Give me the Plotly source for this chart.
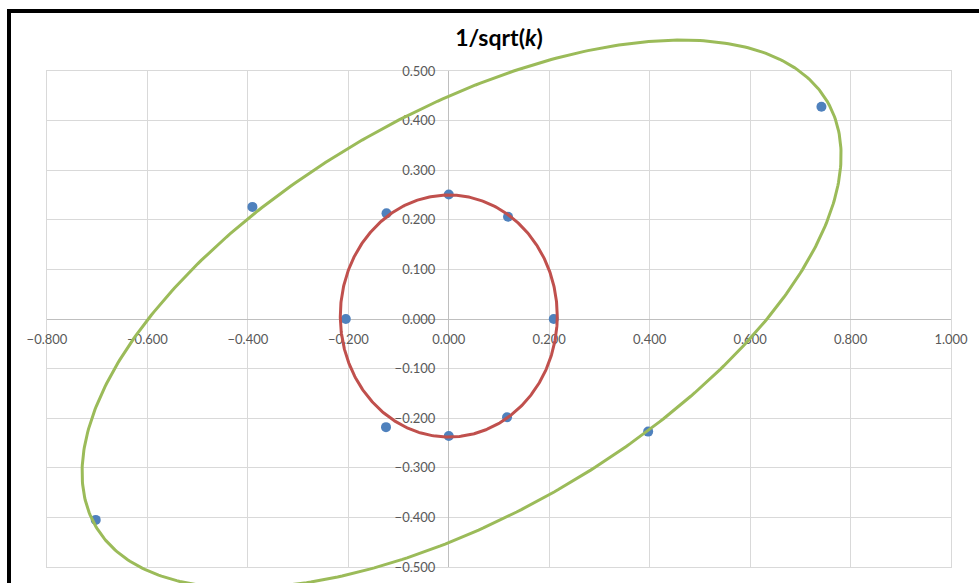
import numpy as np
import plotly.graph_objects as go

# Measured points (x, y)
pt_x = [0.000, 0.118, 0.209, 0.116, 0.000, -0.125, -0.205, -0.124,
        -0.391, 0.742, 0.397, -0.703]
pt_y = [0.251, 0.206, 0.000, -0.198, -0.236, -0.218, 0.000, 0.213,
        0.226, 0.428, -0.227, -0.405]

# Inner (axis-aligned) ellipse: centre, semi-axes
inner_center = (0.0, 0.006)
inner_axes = (0.216, 0.244)

# Outer (rotated) ellipse: centre, semi-axes, rotation in degrees
outer_center = (0.0255, 0.01)
outer_axes = (0.8449, 0.4027)
outer_angle = 30.59

x_ticks = [-0.8, -0.6, -0.4, -0.2, 0.0, 0.2, 0.4, 0.6, 0.8, 1.0]
y_ticks = [0.5, 0.4, 0.3, 0.2, 0.1, 0.0, -0.1, -0.2, -0.3, -0.4, -0.5]


def ellipse(center, axes, angle_deg=0.0, n=500):
    t = np.linspace(0, 2 * np.pi, n)
    a, b = axes
    th = np.radians(angle_deg)
    ex = a * np.cos(t)
    ey = b * np.sin(t)
    x = center[0] + ex * np.cos(th) - ey * np.sin(th)
    y = center[1] + ex * np.sin(th) + ey * np.cos(th)
    return x, y


ix, iy = ellipse(inner_center, inner_axes)
ox, oy = ellipse(outer_center, outer_axes, outer_angle)

W, H = 979, 583
L, R, T, B = 47, 28, 71, 16
xmin, xmax = -0.8, 1.0
ymin, ymax = -0.5, 0.5
plot_w = W - L - R
plot_h = H - T - B

# a second, hidden subplot spanning the whole figure at the same scale,
# so the outer ellipse can run past the plot frame
sx = (xmax - xmin) / plot_w
sy = (ymax - ymin) / plot_h
x2_range = [xmin - L * sx, xmax + R * sx]
y2_range = [ymin - B * sy, ymax + T * sy]

fig = go.Figure()
fig.add_trace(go.Scatter(
    x=pt_x, y=pt_y, mode="markers",
    marker=dict(size=10, color="#4F81BD"),
    cliponaxis=False, showlegend=False))
fig.add_trace(go.Scatter(
    x=ix, y=iy, mode="lines",
    line=dict(color="#C0504D", width=3),
    cliponaxis=False, showlegend=False))
fig.add_trace(go.Scatter(
    x=ox, y=oy, mode="lines", xaxis="x2", yaxis="y2",
    line=dict(color="#9BBB59", width=3),
    showlegend=False))

# shift tick labels so they sit beside the zero lines
x_standoff = int(round(-plot_h * (0 - ymin) / (ymax - ymin))) + 8
y_standoff = int(round(-plot_w * (0 - xmin) / (xmax - xmin))) + 10

tickfont = dict(family="Lato", size=13, color="#595959")
fig.update_layout(
    width=W, height=H,
    margin=dict(l=0, r=0, t=0, b=0, pad=0),
    paper_bgcolor="white", plot_bgcolor="rgba(0,0,0,0)",
    xaxis=dict(
        domain=[L / W, 1 - R / W], anchor="y",
        range=[xmin, xmax], tickvals=x_ticks, tickformat=".3f",
        showgrid=True, gridcolor="#D9D9D9", gridwidth=1,
        zeroline=True, zerolinecolor="#BFBFBF", zerolinewidth=1,
        showline=True, linecolor="#D9D9D9", mirror=True,
        ticks="", tickfont=tickfont, ticklabelstandoff=x_standoff,
        layer="below traces", automargin=False),
    yaxis=dict(
        domain=[B / H, 1 - T / H], anchor="x",
        range=[ymin, ymax], tickvals=y_ticks, tickformat=".3f",
        showgrid=True, gridcolor="#D9D9D9", gridwidth=1,
        zeroline=True, zerolinecolor="#BFBFBF", zerolinewidth=1,
        showline=True, linecolor="#D9D9D9", mirror=True,
        ticks="", tickfont=tickfont, ticklabelstandoff=y_standoff,
        layer="below traces", automargin=False),
    xaxis2=dict(domain=[0, 1], range=x2_range, anchor="y2",
                visible=False, fixedrange=True),
    yaxis2=dict(domain=[0, 1], range=y2_range, anchor="x2",
                visible=False, fixedrange=True),
    title=dict(
        text="1/sqrt(<i>k</i>)", x=499 / W, xanchor="center",
        y=1 - 38 / H, yanchor="middle",
        font=dict(family="Lato", size=23, color="#000000", weight="bold")),
    shapes=[
        dict(type="line", xref="paper", yref="paper",
             x0=9 / W, x1=9 / W, y0=1 - 9 / H, y1=-0.01,
             line=dict(color="black", width=4)),
        dict(type="line", xref="paper", yref="paper",
             x0=7 / W, x1=1.01, y0=1 - 11 / H, y1=1 - 11 / H,
             line=dict(color="black", width=4)),
    ],
)

fig.write_html("out.html")
